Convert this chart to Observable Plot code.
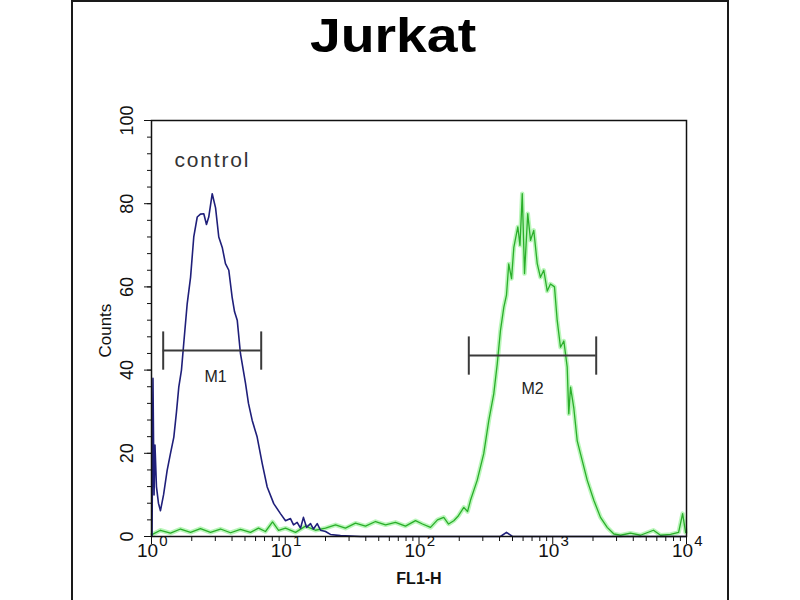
<!DOCTYPE html>
<html><head><meta charset="utf-8">
<script src="https://cdn.jsdelivr.net/npm/d3@7"></script>
<script src="https://cdn.jsdelivr.net/npm/@observablehq/plot@0.6"></script>
<style>
body{margin:0;background:#fff;width:800px;height:600px;overflow:hidden;position:relative;font-family:"Liberation Sans",Arial,sans-serif}
#frame{position:absolute;left:71px;top:0;width:654px;height:640px;border:2px solid #1a1a1a;border-bottom:none}
#title{position:absolute;left:0;top:10px;width:786px;text-align:center;font-size:49px;font-weight:bold;line-height:50px;color:#000;transform:scaleX(1.13);transform-origin:393px 0}
#chart{position:absolute;left:0;top:80px}
</style></head><body>
<div id="frame"></div>
<div id="title">Jurkat</div>
<div id="chart"></div>
<script>
// log10(FL1-H) and counts for the control (blue) histogram
const blueLog = [0.004,0.011,0.019,0.026,0.037,0.052,0.067,0.090,0.117,0.142,0.167,0.187,0.204,0.224,0.241,0.267,0.292,0.316,0.342,0.366,0.391,0.411,0.428,0.454,0.479,0.503,0.529,0.553,0.578,0.603,0.621,0.641,0.665,0.703,0.725,0.753,0.790,0.828,0.865,0.914,0.964,1.002,1.039,1.062,1.089,1.114,1.136,1.159,1.189,1.211,1.239,1.264,1.301,1.338,1.413,1.563,2.609,2.654,2.699,3.995];
const blueCounts = [0,38,10,22,12,8,6.2,10,15.9,20,23.9,30,35.9,40,46.4,56,62.3,72,76.8,77.5,77.6,75,76.8,82.4,79,72,69.5,65.6,64,57.5,54,52,44,36.8,32,27.9,23.9,17.5,11.9,7.9,5.5,3.8,4.3,2.8,3.4,2.0,4.6,2.2,3.1,1.8,3.1,1.5,1.2,0.5,0.2,0,0,1.0,0,0];
// log10(FL1-H) and counts for the stained (green) histogram
const greenLog = [0.007,0.067,0.142,0.217,0.292,0.366,0.441,0.516,0.591,0.665,0.740,0.800,0.852,0.905,0.950,1.002,1.077,1.151,1.226,1.301,1.376,1.450,1.525,1.600,1.675,1.750,1.824,1.899,1.974,2.026,2.086,2.138,2.185,2.221,2.260,2.295,2.335,2.363,2.385,2.435,2.484,2.522,2.559,2.585,2.609,2.634,2.654,2.671,2.692,2.709,2.739,2.755,2.772,2.789,2.813,2.834,2.858,2.884,2.908,2.933,2.959,2.983,3.013,3.033,3.058,3.083,3.108,3.120,3.133,3.157,3.183,3.220,3.258,3.307,3.357,3.407,3.457,3.507,3.581,3.656,3.753,3.806,3.881,3.941,3.971,3.993];
const greenCounts = [0.5,1.5,0.8,1.8,1.0,1.9,1.0,1.8,0.9,1.7,1.0,2.0,1.2,3.5,1.5,2.0,1.0,2.5,1.5,2.0,2.8,2.0,3.2,2.5,3.6,2.8,3.4,2.5,3.8,3.0,2.2,4.0,4.6,3.0,3.8,5.0,7,6,8.7,13.5,19.9,27.9,34.3,41.5,49.5,55.1,58,65.5,62,69.5,74.4,70,82.4,63.2,77.6,71.2,73.6,65.6,62.3,64,59,60.7,60,52,45.5,47,40.7,29.5,35.9,31,23,18.3,13.5,8.7,4.6,2.2,0.6,0.3,0.8,0.3,1.5,0.3,0.5,1.0,5.5,1.0];
// gate markers
const markerNames = ["M1","M2"];
const markerX1 = [1.223, 235.7];
const markerX2 = [6.61, 2113];
const markerY = [44.7, 43.5];
const markerLabelX = [3.01, 706];
const markerLabelY = [38.3, 35.6];
const capHalf = 4.6;
// axes
const yMajor = [0,20,40,60,80,100];
const yMinor = d3.range(0, 101, 4);
const xMajor = [1,10,100,1000,10000];
const xExp = ["0","1","2","3","4"];
const xMinor = [2,3,4,5,6,7,8,9,20,30,40,50,60,70,80,90,200,300,400,500,600,700,800,900,2000,3000,4000,5000,6000,7000,8000,9000];
const controlLabel = {text:"control", x:1.486, y:90.4};

const blue = blueLog.map((v,i)=>({x: 10**v, y: blueCounts[i]}));
const green = greenLog.map((v,i)=>({x: 10**v, y: greenCounts[i]}));
const markers = markerNames.map((n,i)=>({name:n, x1:markerX1[i], x2:markerX2[i], y:markerY[i], lx:markerLabelX[i], ly:markerLabelY[i]}));
const ink = "#111";
const font = "Liberation Sans, Arial, sans-serif";

const chart = Plot.plot({
  width: 800, height: 520,
  marginLeft: 151, marginRight: 114, marginTop: 40, marginBottom: 64,
  x: {type: "log", domain: [1, 10000]},
  y: {domain: [0, 100]},
  style: {fontFamily: font, color: ink, background: "transparent"},
  marks: [
    Plot.line(green, {x: "x", y: "y", stroke: "#8cf08c", strokeWidth: 4.5, strokeOpacity: 0.6}),
    Plot.line(green, {x: "x", y: "y", stroke: "#2aae2a", strokeWidth: 1.3}),
    Plot.line(blue, {x: "x", y: "y", stroke: "#1f1f7a", strokeWidth: 1.6}),
    Plot.frame({stroke: ink, strokeWidth: 1.5}),
    Plot.axisY({ticks: yMinor, tickSize: 4, tickFormat: () => "", label: null}),
    Plot.axisY({ticks: yMajor, tickSize: 7, tickFormat: () => "", label: null}),
    Plot.axisX({ticks: xMinor, tickSize: 5, tickFormat: () => "", label: null}),
    Plot.axisX({ticks: xMajor, tickSize: 8, tickFormat: () => "", label: null}),
    Plot.text(yMajor, {y: d => d, frameAnchor: "left", textAnchor: "middle", dx: -24, rotate: -90, text: d => String(d), fontSize: 18, fill: ink}),
    Plot.text(xMajor, {x: d => d, frameAnchor: "bottom", textAnchor: "middle", dy: 20, dx: -4, text: () => "10", fontSize: 19, fill: ink}),
    Plot.text(xMajor, {x: d => d, frameAnchor: "bottom", textAnchor: "middle", dy: 9, dx: 12, text: (d, i) => xExp[i], fontSize: 15, fill: ink}),
    Plot.text(["FL1-H"], {x: [100], frameAnchor: "bottom", textAnchor: "middle", dy: 47, text: d => d, fontSize: 16, fontWeight: "bold", fill: ink}),
    Plot.text(["Counts"], {y: [49.5], frameAnchor: "left", textAnchor: "middle", dx: -46, rotate: -90, text: d => d, fontSize: 17, fill: ink}),
    Plot.text([controlLabel], {x: "x", y: "y", text: "text", textAnchor: "start", fontSize: 21, fill: "#333"}),
    Plot.ruleY(markers, {y: "y", x1: "x1", x2: "x2", stroke: "#3a3a3a", strokeWidth: 2}),
    Plot.link(markers, {x1: "x1", x2: "x1", y1: d => d.y - capHalf, y2: d => d.y + capHalf, stroke: "#3a3a3a", strokeWidth: 2}),
    Plot.link(markers, {x1: "x2", x2: "x2", y1: d => d.y - capHalf, y2: d => d.y + capHalf, stroke: "#3a3a3a", strokeWidth: 2}),
    Plot.text(markers, {x: "lx", y: "ly", text: "name", fontSize: 16, fill: "#222"})
  ]
});
document.getElementById("chart").appendChild(chart);
d3.select(chart).selectAll("text").filter(function(){ return this.textContent === "control"; }).attr("letter-spacing", "1.8px");
</script>
</body></html>
